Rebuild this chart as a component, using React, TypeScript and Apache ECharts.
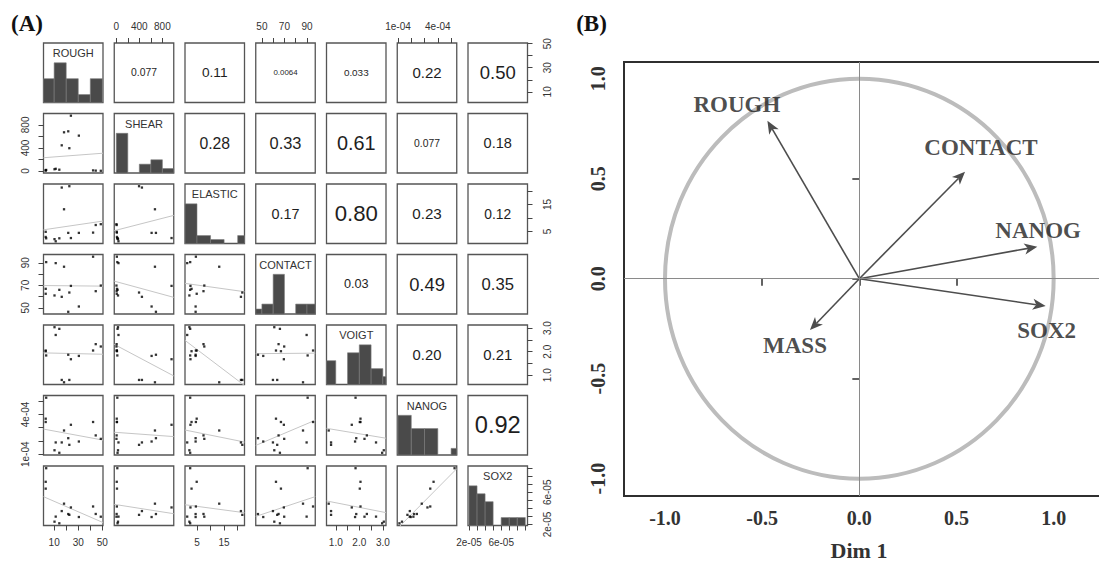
import React, { useEffect, useRef } from "react";
import * as echarts from "echarts";

// ---------------- Panel A: 15 samples, 7 variables ----------------
const VARS = ["ROUGH", "SHEAR", "ELASTIC", "CONTACT", "VOIGT", "NANOG", "SOX2"];
const ROUGH = [23.9, 18.2, 21.7, 30.5, 16.3, 22.6, 3.4, 3.0, 3.0, 11.3, 10.3, 14.3, 42.3, 44.5, 48.7];
const SHEAR = [959, 671, 688, 613, 445, 395, 18, 8, 12, 38, 30, 22, 10, 6, 3];
const ELASTIC = [2.6, 13.2, 4.5, 4.5, 21.2, 21.7, 2.5, 4.9, 3.0, 1.4, 2.2, 2.5, 4.6, 7.4, 7.7];
const CONTACT = [69.5, 86.5, 46.5, 51.2, 59.8, 63.6, 90.6, 62.5, 66.9, 89.7, 61.0, 66.0, 95.4, 64.8, 69.8];
const VOIGT = [1.68, 0.7, 1.87, 1.82, 0.8, 0.8, 1.84, 2.05, 2.02, 2.71, 3.04, 2.97, 2.05, 2.32, 2.22];
const NANOG = [3.22e-4, 2.79e-4, 2.21e-4, 1.96e-4, 1.89e-4, 1.71e-4, 5.26e-4, 3.68e-4, 3.43e-4, 1.89e-4, 1.3e-4, 1.11e-4, 3.43e-4, 2.42e-4, 2.16e-4];
const SOX2 = [4.12e-5, 4.59e-5, 3.3e-5, 2.93e-5, 3.67e-5, 3.2e-5, 9.0e-5, 7.31e-5, 6.46e-5, 2.98e-5, 2.35e-5, 2.15e-5, 4.24e-5, 3.31e-5, 2.97e-5];
const DATA = [ROUGH, SHEAR, ELASTIC, CONTACT, VOIGT, NANOG, SOX2];

const HIST_BREAKS = [
  [0, 10, 20, 30, 40, 50],
  [0, 200, 400, 600, 800, 1000],
  [0, 5, 10, 15, 20, 25],
  [40, 50, 60, 70, 80, 90, 100],
  [0.5, 1, 1.5, 2, 2.5, 3, 3.5],
  [1e-4, 2e-4, 3e-4, 4e-4, 5e-4, 6e-4],
  [2e-5, 3e-5, 4e-5, 5e-5, 6e-5, 7e-5, 8e-5, 9e-5],
];
const HIST_COUNTS = [
  [3, 5, 3, 1, 3],
  [9, 0, 2, 3, 1],
  [10, 2, 1, 0, 2],
  [1, 2, 8, 0, 2, 2],
  [3, 0, 4, 5, 2, 1],
  [6, 4, 4, 0, 1],
  [5, 4, 3, 0, 1, 1, 1],
];

const AXIS_TICKS = [
  [10, 20, 30, 40, 50],
  [0, 200, 400, 600, 800, 1000],
  [5, 10, 15, 20],
  [50, 60, 70, 80, 90],
  [1, 1.5, 2, 2.5, 3],
  [1e-4, 2e-4, 3e-4, 4e-4, 5e-4],
  [2e-5, 3e-5, 4e-5, 5e-5, 6e-5, 7e-5, 8e-5, 9e-5],
];
const AXIS_LABEL_VALUES = [
  [10, 30, 50],
  [0, 400, 800],
  [5, 15],
  [50, 70, 90],
  [1, 2, 3],
  [1e-4, 4e-4],
  [2e-5, 6e-5],
];
const AXIS_LABEL_TEXT = [
  ["10", "30", "50"],
  ["0", "400", "800"],
  ["5", "15"],
  ["50", "70", "90"],
  ["1.0", "2.0", "3.0"],
  ["1e-04", "4e-04"],
  ["2e-05", "6e-05"],
];

// upper-triangle correlations, row by row
const CORR_TEXT = [
  "0.077", "0.11", "0.0064", "0.033", "0.22", "0.50",
  "0.28", "0.33", "0.61", "0.077", "0.18",
  "0.17", "0.80", "0.23", "0.12",
  "0.03", "0.49", "0.35",
  "0.20", "0.21",
  "0.92",
];

// ---------------- Panel B: PCA correlation circle ----------------
const PCA_VARS = ["ROUGH", "CONTACT", "NANOG", "SOX2", "MASS"];
const DIM1 = [-0.473, 0.544, 0.916, 0.959, -0.254];
const DIM2 = [0.79, 0.535, 0.16, -0.137, -0.257];
const LABEL_DIM1 = [-0.63, 0.626, 0.92, 0.964, -0.331];
const LABEL_DIM2 = [0.873, 0.657, 0.24, -0.2565, -0.335];
const PCA_TICKS = [-1, -0.5, 0, 0.5, 1];
const PCA_X_RANGE = [-1.211, 1.362];
const PCA_Y_RANGE = [-1.0865, 1.0835];

// ---------------- layout ----------------
const N = 7;
const CELL_X0 = 43.5;
const CELL_Y0 = 43;
const STEP_X = 70.75;
const STEP_Y = 70.5;
const CELL = 59.5;
const SANS = '"Liberation Sans", Arial, Helvetica, sans-serif';
const SERIF = '"Liberation Serif", "Times New Roman", Times, serif';

function padRange(arr: number[]) {
  const mn = Math.min(...arr);
  const mx = Math.max(...arr);
  const p = (mx - mn) * 0.04;
  return [mn - p, mx + p];
}

function lmFit(x: number[], y: number[]) {
  const n = x.length;
  const mx = x.reduce((a, b) => a + b, 0) / n;
  const my = y.reduce((a, b) => a + b, 0) / n;
  let sxy = 0;
  let sxx = 0;
  for (let t = 0; t < n; t++) {
    sxy += (x[t] - mx) * (y[t] - my);
    sxx += (x[t] - mx) * (x[t] - mx);
  }
  const b = sxy / sxx;
  return { a: my - b * mx, b };
}

function buildOption() {
  const ranges = DATA.map(padRange);
  const grid: any[] = [];
  const xAxis: any[] = [];
  const yAxis: any[] = [];
  const series: any[] = [];
  const graphic: any[] = [];

  const fmt = (v: number) => (val: number) => {
    const vals = AXIS_LABEL_VALUES[v];
    for (let t = 0; t < vals.length; t++) {
      if (Math.abs(vals[t] - val) <= Math.abs(vals[t]) * 1e-6 + 1e-15) return AXIS_LABEL_TEXT[v][t];
    }
    return "";
  };
  const shown = (v: number, position: string, rotate: number, margin: number) => ({
    show: true,
    position,
    min: ranges[v][0],
    max: ranges[v][1],
    axisLine: { show: false },
    axisTick: { show: true, length: 5, customValues: AXIS_TICKS[v], lineStyle: { color: "#444", width: 1 } },
    axisLabel: {
      show: true,
      customValues: AXIS_LABEL_VALUES[v],
      formatter: fmt(v),
      rotate,
      margin,
      fontSize: 10,
      color: "#333",
      fontFamily: SANS,
    },
    splitLine: { show: false },
  });

  let u = 0;
  for (let i = 0; i < N; i++) {
    for (let j = 0; j < N; j++) {
      const k = i * N + j;
      const left = CELL_X0 + j * STEP_X;
      const top = CELL_Y0 + i * STEP_Y;
      grid.push({
        left,
        top,
        width: CELL,
        height: CELL,
        show: true,
        borderColor: "#555",
        borderWidth: 1.3,
        outerBoundsMode: "none",
      });

      let xa: any = { type: "value", gridIndex: k, min: ranges[j][0], max: ranges[j][1], show: false };
      if (i === 0 && j % 2 === 1) xa = { type: "value", gridIndex: k, ...shown(j, "top", 0, 12) };
      if (i === N - 1 && j % 2 === 0) xa = { type: "value", gridIndex: k, ...shown(j, "bottom", 0, 12) };
      xAxis.push(xa);

      const yr = i === j ? [0, 1.5 * Math.max(...HIST_COUNTS[i])] : ranges[i];
      let ya: any = { type: "value", gridIndex: k, min: yr[0], max: yr[1], show: false, position: "left" };
      if (j === 0 && i % 2 === 1) ya = { type: "value", gridIndex: k, ...shown(i, "left", 90, 13) };
      if (j === N - 1 && i % 2 === 0 && i !== j) ya = { type: "value", gridIndex: k, ...shown(i, "right", 90, 15) };
      yAxis.push(ya);

      if (i > j) {
        const xs = DATA[j];
        const ys = DATA[i];
        const fit = lmFit(xs, ys);
        const x0 = ranges[j][0];
        const x1 = ranges[j][1];
        series.push({
          type: "line",
          xAxisIndex: k,
          yAxisIndex: k,
          data: [
            [x0, fit.a + fit.b * x0],
            [x1, fit.a + fit.b * x1],
          ],
          symbol: "none",
          showSymbol: false,
          lineStyle: { color: "#c6c6c6", width: 1 },
          clip: true,
          silent: true,
          z: 2,
        });
        series.push({
          type: "scatter",
          xAxisIndex: k,
          yAxisIndex: k,
          data: xs.map((xv, s) => [xv, ys[s]]),
          symbol: "rect",
          symbolSize: 2.3,
          itemStyle: { color: "#000" },
          silent: true,
          z: 3,
        });
      } else if (i === j) {
        const br = HIST_BREAKS[i];
        series.push({
          type: "custom",
          xAxisIndex: k,
          yAxisIndex: k,
          silent: true,
          z: 2,
          data: HIST_COUNTS[i].map((c, b) => [br[b], br[b + 1], c]),
          encode: { x: [0, 1], y: 2 },
          renderItem: (params: any, api: any) => {
            const c = api.value(2);
            if (!c) return { type: "group", children: [] };
            const p0 = api.coord([api.value(0), c]);
            const p1 = api.coord([api.value(1), 0]);
            const cs = params.coordSys;
            const l = Math.max(p0[0], cs.x);
            const r = Math.min(p1[0], cs.x + cs.width);
            return {
              type: "rect",
              shape: { x: l, y: p0[1], width: Math.max(0, r - l), height: p1[1] - p0[1] },
              style: { fill: "#4a4a4a", stroke: "#7a7a7a", lineWidth: 0.6 },
            };
          },
        });
        graphic.push({
          type: "text",
          x: left + CELL / 2,
          y: top + 10,
          silent: true,
          style: {
            text: VARS[i],
            fontSize: 11,
            fontFamily: SANS,
            fill: "#333",
            textAlign: "center",
            textVerticalAlign: "middle",
            verticalAlign: "middle",
          },
        });
      } else {
        const txt = CORR_TEXT[u++];
        const r = parseFloat(txt);
        const fs = (24 * (1 + r)) / (0.556 * (txt.length - 1) + 0.278);
        graphic.push({
          type: "text",
          x: left + CELL / 2,
          y: top + CELL / 2,
          silent: true,
          style: {
            text: txt,
            fontSize: fs,
            fontFamily: SANS,
            fill: "#1e1e1e",
            textAlign: "center",
            textVerticalAlign: "middle",
            verticalAlign: "middle",
          },
        });
      }
    }
  }
  // extra right-hand SOX2 axis on the bottom-right diagonal cell
  yAxis.push({ type: "value", gridIndex: N * N - 1, ...shown(6, "right", 90, 15) });

  // ---------------- Panel B ----------------
  const gB = N * N;
  grid.push({
    left: 624,
    top: 62,
    width: 500,
    height: 434,
    show: true,
    borderColor: "#2f2f2f",
    borderWidth: 2,
    outerBoundsMode: "none",
  });
  const xB = xAxis.length;
  xAxis.push({
    type: "value",
    gridIndex: gB,
    min: PCA_X_RANGE[0],
    max: PCA_X_RANGE[1],
    axisLine: { show: false },
    axisTick: { show: true, length: 7, customValues: PCA_TICKS, lineStyle: { color: "#2f2f2f", width: 1.5 } },
    axisLabel: {
      customValues: PCA_TICKS,
      formatter: (v: number) => v.toFixed(1),
      fontFamily: SERIF,
      fontWeight: "bold",
      fontSize: 20,
      color: "#333",
      margin: 12,
    },
    splitLine: { show: false },
  });
  const yB = yAxis.length;
  yAxis.push({
    type: "value",
    gridIndex: gB,
    position: "left",
    min: PCA_Y_RANGE[0],
    max: PCA_Y_RANGE[1],
    axisLine: { show: false },
    axisTick: { show: true, length: 7, customValues: PCA_TICKS, lineStyle: { color: "#2f2f2f", width: 1.5 } },
    axisLabel: {
      customValues: PCA_TICKS,
      formatter: (v: number) => v.toFixed(1),
      rotate: 90,
      fontFamily: SERIF,
      fontWeight: "bold",
      fontSize: 20,
      color: "#333",
      margin: 16,
    },
    splitLine: { show: false },
  });

  // unit circle
  series.push({
    type: "custom",
    xAxisIndex: xB,
    yAxisIndex: yB,
    silent: true,
    z: 1,
    data: [[0, 0, 1]],
    renderItem: (_p: any, api: any) => {
      const c = api.coord([api.value(0), api.value(1)]);
      const e = api.coord([api.value(0) + api.value(2), api.value(1) + api.value(2)]);
      return {
        type: "ellipse",
        shape: { cx: c[0], cy: c[1], rx: e[0] - c[0], ry: c[1] - e[1] },
        style: { fill: "none", stroke: "#bcbcbc", lineWidth: 4 },
      };
    },
  });

  // arrows
  series.push({
    type: "custom",
    xAxisIndex: xB,
    yAxisIndex: yB,
    silent: true,
    z: 4,
    data: PCA_VARS.map((_n, i) => [0, 0, DIM1[i], DIM2[i]]),
    encode: { x: [0, 2], y: [1, 3] },
    renderItem: (_p: any, api: any) => {
      const p0 = api.coord([api.value(0), api.value(1)]);
      const p1 = api.coord([api.value(2), api.value(3)]);
      const dx = p1[0] - p0[0];
      const dy = p1[1] - p0[1];
      const len = Math.hypot(dx, dy);
      const ux = dx / len;
      const uy = dy / len;
      const nx = -uy;
      const ny = ux;
      const L = 13;
      const W = 5.5;
      const notch = 3.5;
      const base = [p1[0] - ux * L, p1[1] - uy * L];
      const inner = [p1[0] - ux * (L - notch), p1[1] - uy * (L - notch)];
      return {
        type: "group",
        children: [
          {
            type: "line",
            shape: { x1: p0[0], y1: p0[1], x2: inner[0], y2: inner[1] },
            style: { stroke: "#4d4d4d", lineWidth: 1.6 },
          },
          {
            type: "polygon",
            shape: {
              points: [
                [p1[0], p1[1]],
                [base[0] + nx * W, base[1] + ny * W],
                inner,
                [base[0] - nx * W, base[1] - ny * W],
              ],
            },
            style: { fill: "#4d4d4d" },
          },
        ],
      };
    },
  });

  // labels + crosshair
  series.push({
    type: "scatter",
    xAxisIndex: xB,
    yAxisIndex: yB,
    silent: true,
    z: 5,
    symbolSize: 1,
    itemStyle: { color: "rgba(0,0,0,0)" },
    emphasis: { disabled: true },
    data: PCA_VARS.map((n, i) => ({ name: n, value: [LABEL_DIM1[i], LABEL_DIM2[i]] })),
    label: {
      show: true,
      position: "inside",
      formatter: "{b}",
      fontFamily: SERIF,
      fontWeight: "bold",
      fontSize: 23,
      color: "#1e1e1e",
    },
    markLine: {
      silent: true,
      symbol: ["none", "none"],
      label: { show: false },
      lineStyle: { color: "#8a8a8a", width: 1, type: "solid" },
      emphasis: { disabled: true },
      data: [{ xAxis: 0 }, { yAxis: 0 }],
    },
  });

  graphic.push(
    {
      type: "text",
      x: 27,
      y: 23,
      silent: true,
      style: { text: "(A)", fontSize: 23, fontWeight: "bold", fontFamily: SERIF, fill: "#111", textAlign: "center", textVerticalAlign: "middle", verticalAlign: "middle" },
    },
    {
      type: "text",
      x: 591.5,
      y: 23.5,
      silent: true,
      style: { text: "(B)", fontSize: 23, fontWeight: "bold", fontFamily: SERIF, fill: "#111", textAlign: "center", textVerticalAlign: "middle", verticalAlign: "middle" },
    },
    {
      type: "text",
      x: 859,
      y: 550,
      silent: true,
      style: { text: "Dim 1", fontSize: 22, fontWeight: "bold", fontFamily: SERIF, fill: "#333", textAlign: "center", textVerticalAlign: "middle", verticalAlign: "middle" },
    }
  );

  return {
    animation: false,
    backgroundColor: "#fff",
    grid,
    xAxis,
    yAxis,
    series,
    graphic,
  };
}

export default function App() {
  const ref = useRef<HTMLDivElement>(null);
  useEffect(() => {
    const chart = echarts.init(ref.current as HTMLDivElement, undefined, { renderer: "svg" });
    chart.setOption(buildOption() as any);
    return () => chart.dispose();
  }, []);
  return (
    <div
      ref={ref}
      style={{ position: "fixed", left: 0, top: 0, width: 1099, height: 563, background: "#fff" }}
    />
  );
}
